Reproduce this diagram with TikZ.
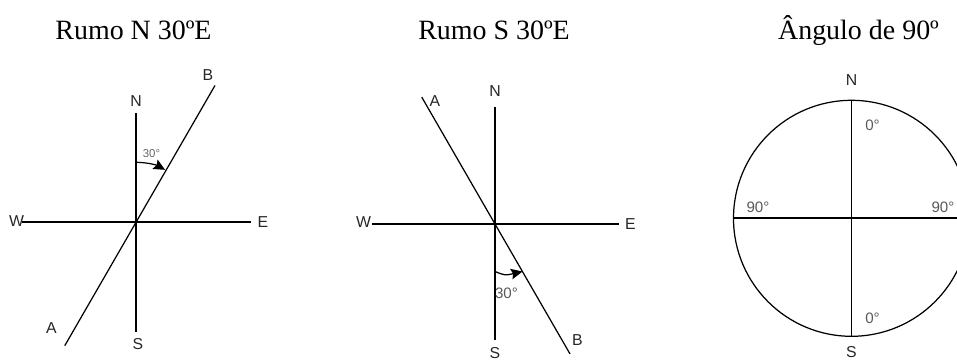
\documentclass[tikz,border=0pt]{standalone}
\usepackage{fontspec}
\setmainfont{Liberation Serif}
\newfontfamily\arialfont{Liberation Sans}
\usetikzlibrary{arrows.meta}
\tikzset{
  axis/.style={line width=1pt},
  bearing/.style={line width=0.7pt},
  lbl/.style={font=\arialfont\fontsize{9}{10}\selectfont, text=black!85, inner sep=0pt},
  deg/.style={font=\arialfont\fontsize{8.6}{10}\selectfont, text=black!65, inner sep=0pt},
  tinydeg/.style={font=\arialfont\fontsize{6.5}{7}\selectfont, text=black!60, inner sep=0pt},
  title/.style={font=\fontsize{15.9}{18}\selectfont, anchor=base, inner sep=0pt},
  turn/.style={line width=0.7pt, -{Stealth[length=6.5pt,width=6pt,inset=1pt]}}
}
\begin{document}
\begin{tikzpicture}
  \useasboundingbox (0,0) rectangle (19.14,-7.24);
  \clip (0,0) rectangle (19.14,-7.24);
  % Titles
  \node[title] (t1) at (2.67,-0.79) {Rumo N 30ºE};
  \node[title] (t2) at (9.88,-0.79) {Rumo S 30ºE};
  \node[title] (t3) at (17.17,-0.79) {Ângulo de 90º};
  % Rumo N 30 E
  \begin{scope}[shift={(2.72,-4.446)}]
    \draw[axis] (0,-2.19) -- (0,2.19);
    \draw[axis] (-2.29,0) -- (2.29,0);
    \draw[bearing] (240:2.85) -- (60:3.16);
    \draw[turn] (90:1.2) arc[start angle=90, end angle=61, radius=1.2];
    \node[tinydeg] (a1) at (0.31,1.38) {30°};
    \node[lbl] (n1) at (0,2.43) {N};
    \node[lbl] (s1) at (0.04,-2.43) {S};
    \node[lbl] (w1) at (-2.39,0.02) {W};
    \node[lbl] (e1) at (2.54,0) {E};
    \node[lbl] (b1) at (1.44,2.95) {B};
    \node[lbl] (p1) at (-1.69,-2.11) {A};
  \end{scope}
  % Rumo S 30 E
  \begin{scope}[shift={(9.9,-4.48)}]
    \draw[axis] (0,-2.32) -- (0,2.35);
    \draw[axis] (-2.47,0) -- (2.47,0);
    \draw[bearing] (120:2.93) -- (-60:3.0);
    \draw[turn] (0,-0.95) .. controls (0.2,-1.03) .. (0.55,-0.95);
    \node[deg] (a2) at (0.23,-1.39) {30°};
    \node[lbl] (n2) at (0,2.65) {N};
    \node[lbl] (s2) at (0,-2.58) {S};
    \node[lbl] (w2) at (-2.63,0.04) {W};
    \node[lbl] (e2) at (2.71,0) {E};
    \node[lbl] (p2) at (-1.2,2.45) {A};
    \node[lbl] (b2) at (1.65,-2.32) {B};
  \end{scope}
  % Angulo de 90
  \begin{scope}[shift={(17.03,-4.366)}]
    \draw[bearing] (0,0) circle (2.36);
    \draw[axis] (0,-2.36) -- (0,2.36);
    \draw[axis] (-2.36,0) -- (2.36,0);
    \node[lbl] (n3) at (0,2.77) {N};
    \node[lbl] (s3) at (0,-2.68) {S};
    \node[deg] (z1) at (0.42,1.87) {0°};
    \node[deg] (z2) at (0.42,-2.0) {0°};
    \node[deg] (r1) at (-1.87,0.23) {90°};
    \node[deg] (r2) at (1.83,0.23) {90°};
  \end{scope}
\end{tikzpicture}
\end{document}
